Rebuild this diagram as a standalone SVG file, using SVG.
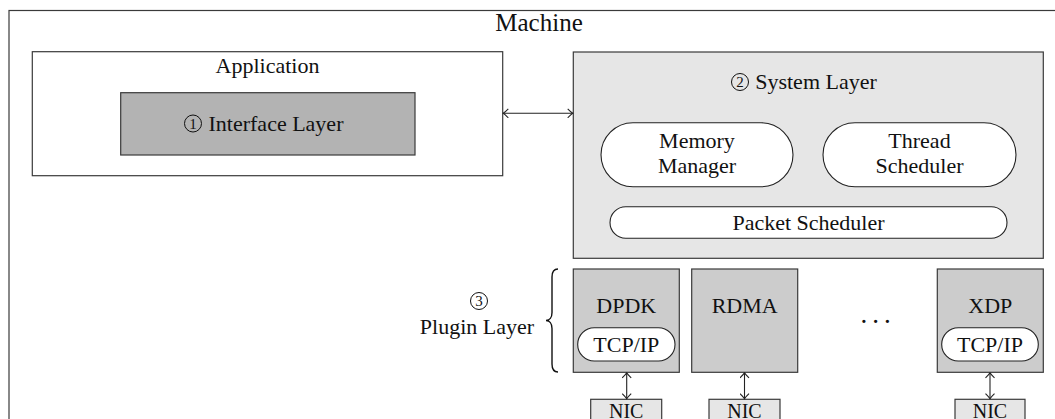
<svg xmlns="http://www.w3.org/2000/svg" width="1055" height="419" viewBox="0 0 1055 419">
  <style>
    .box { stroke: #3a3a3a; stroke-width: 1.2; }
    .lbl { font-family: "Liberation Serif", "Times New Roman", serif; font-size: 22px; fill: #111; text-anchor: middle; }
    .nic { font-family: "Liberation Serif", "Times New Roman", serif; font-size: 20px; fill: #111; text-anchor: middle; }
    .num { font-family: "Liberation Serif", "Times New Roman", serif; font-size: 15px; fill: #111; text-anchor: middle; }
    .ring { fill: none; stroke: #111; stroke-width: 1; }
    .link { fill: none; stroke: #222; stroke-width: 1.1; }
    .pill { fill: #fff; stroke: #222; stroke-width: 1.1; }
  </style>
  <defs>
    <marker id="tip" viewBox="-6 -5 7 10" markerWidth="7" markerHeight="10" refX="0" refY="0" orient="auto-start-reverse" markerUnits="userSpaceOnUse">
      <path d="M-5,-4.5 Q-1.5,-1 0,0 Q-1.5,1 -5,4.5" fill="none" stroke="#222" stroke-width="1.1"/>
    </marker>
  </defs>

  <rect width="1055" height="419" fill="#fff"/>

  <!-- outer machine frame -->
  <g id="machine">
    <rect class="box" x="9" y="10.5" width="1060" height="420" fill="#fff"/>
    <text class="lbl" x="539" y="31" style="font-size:25px">Machine</text>
  </g>

  <!-- application and its interface layer -->
  <g id="application">
    <rect class="box" x="32.3" y="51.7" width="470.4" height="124" fill="#fff"/>
    <text class="lbl" x="267.5" y="73">Application</text>
  </g>
  <g id="interface-layer">
    <rect class="box" x="120.7" y="92.7" width="294.3" height="62.3" fill="#b3b3b3"/>
    <circle class="ring" cx="193" cy="123.5" r="8.5"/>
    <text class="num" x="193" y="128.8">1</text>
    <text class="lbl" x="276" y="131">Interface Layer</text>
  </g>

  <!-- system layer -->
  <g id="system-layer">
    <rect class="box" x="573.3" y="52" width="470" height="206.3" fill="#e6e6e6"/>
    <circle class="ring" cx="740" cy="82" r="8.5"/>
    <text class="num" x="740" y="87.3">2</text>
    <text class="lbl" x="816" y="89">System Layer</text>
  </g>
  <g id="memory-manager">
    <rect class="pill" x="601" y="122.7" width="192" height="64" rx="32" ry="32"/>
    <text class="lbl" x="697" y="148">Memory</text>
    <text class="lbl" x="697" y="173">Manager</text>
  </g>
  <g id="thread-scheduler">
    <rect class="pill" x="823" y="122.7" width="193" height="64" rx="32" ry="32"/>
    <text class="lbl" x="919.5" y="148">Thread</text>
    <text class="lbl" x="919.5" y="173">Scheduler</text>
  </g>
  <g id="packet-scheduler">
    <rect class="pill" x="610" y="206.7" width="397" height="31.6" rx="15.8" ry="15.8"/>
    <text class="lbl" x="808.5" y="229.5">Packet Scheduler</text>
  </g>

  <!-- plugin layer -->
  <g id="plugin-layer">
    <circle class="ring" cx="479" cy="301" r="8.5"/>
    <text class="num" x="479" y="306.3">3</text>
    <text class="lbl" x="477" y="334">Plugin Layer</text>
    <path d="M558,269 C553.5,269 552,271.5 552,277 L552,312.5 C552,317.5 549.5,320.5 546,320.5 C549.5,320.5 552,323.5 552,328.5 L552,364 C552,369.5 553.5,372 558,372" fill="none" stroke="#111" stroke-width="1.4"/>
  </g>
  <g id="dpdk">
    <rect class="box" x="573.3" y="269" width="106" height="103.3" fill="#cccccc"/>
    <text class="lbl" x="626.3" y="313">DPDK</text>
    <rect class="pill" x="577.7" y="327.7" width="97.3" height="33.3" rx="16.6" ry="16.6"/>
    <text class="lbl" x="626.3" y="352">TCP/IP</text>
  </g>
  <g id="rdma">
    <rect class="box" x="691.7" y="269" width="106" height="103.3" fill="#cccccc"/>
    <text class="lbl" x="744.7" y="313">RDMA</text>
  </g>
  <g id="more-plugins">
    <text class="lbl" x="878" y="323" style="font-size:27px;letter-spacing:5px">...</text>
  </g>
  <g id="xdp">
    <rect class="box" x="937.3" y="269" width="106" height="103.3" fill="#cccccc"/>
    <text class="lbl" x="990.3" y="313">XDP</text>
    <rect class="pill" x="941.7" y="327.7" width="96.6" height="33.3" rx="16.6" ry="16.6"/>
    <text class="lbl" x="990" y="352">TCP/IP</text>
  </g>

  <!-- network cards -->
  <g id="nic-dpdk">
    <rect class="box" x="590.7" y="399.3" width="71" height="40" fill="#e6e6e6"/>
    <text class="nic" x="626.2" y="417.5">NIC</text>
  </g>
  <g id="nic-rdma">
    <rect class="box" x="709" y="399.3" width="71" height="40" fill="#e6e6e6"/>
    <text class="nic" x="744.5" y="417.5">NIC</text>
  </g>
  <g id="nic-xdp">
    <rect class="box" x="955" y="399.3" width="70" height="40" fill="#e6e6e6"/>
    <text class="nic" x="990" y="417.5">NIC</text>
  </g>

  <!-- connectors -->
  <g id="connectors">
    <line class="link" x1="503.3" y1="113.3" x2="572.7" y2="113.3" marker-start="url(#tip)" marker-end="url(#tip)"/>
    <line class="link" x1="626.7" y1="372.9" x2="626.7" y2="398.7" marker-start="url(#tip)" marker-end="url(#tip)"/>
    <line class="link" x1="744.5" y1="372.9" x2="744.5" y2="398.7" marker-start="url(#tip)" marker-end="url(#tip)"/>
    <line class="link" x1="990" y1="372.9" x2="990" y2="398.7" marker-start="url(#tip)" marker-end="url(#tip)"/>
  </g>
</svg>
